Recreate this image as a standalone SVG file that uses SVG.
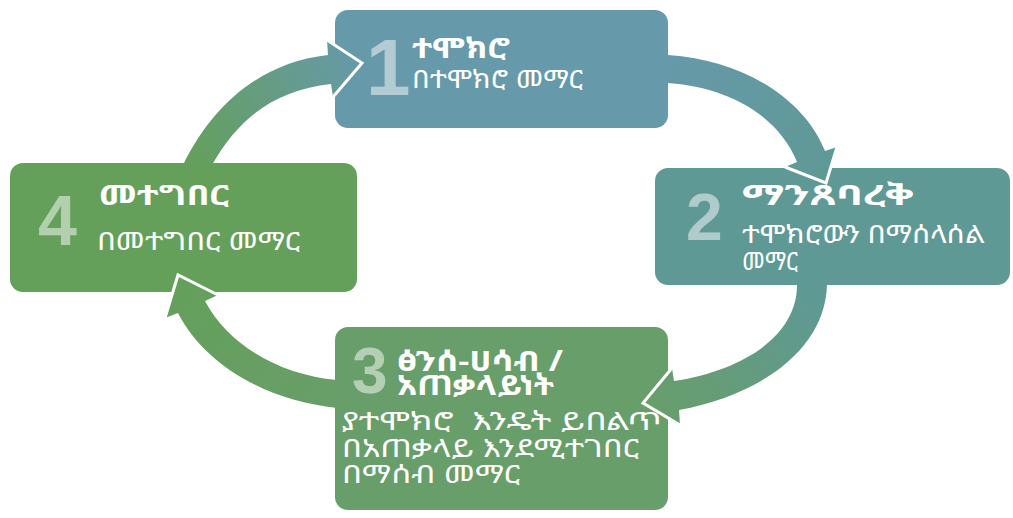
<svg xmlns="http://www.w3.org/2000/svg" width="1013" height="518" viewBox="0 0 1013 518">
<defs>
<style>
.num{font-family:"Liberation Sans",Arial,sans-serif;font-weight:bold;fill:#ffffff;fill-opacity:0.5}
.t,.s{font-family:"Noto Sans Ethiopic","Noto Sans","DejaVu Sans",sans-serif;fill:#ffffff;white-space:pre}
.t{font-weight:bold;font-size:28px}
.s{font-weight:normal;font-size:25px}
.hd{fill:none;stroke:#ffffff;stroke-width:3;stroke-linejoin:miter}
</style>
<linearGradient id="g1" gradientUnits="userSpaceOnUse" x1="190" y1="165" x2="362" y2="63"><stop offset="0" stop-color="#64a05a"/><stop offset="1" stop-color="#6699a9"/></linearGradient>
<linearGradient id="g2" gradientUnits="userSpaceOnUse" x1="668" y1="70" x2="826" y2="183"><stop offset="0" stop-color="#6699a9"/><stop offset="1" stop-color="#5f9995"/></linearGradient>
<linearGradient id="g3" gradientUnits="userSpaceOnUse" x1="812" y1="285" x2="643" y2="403"><stop offset="0" stop-color="#5f9995"/><stop offset="1" stop-color="#689e69"/></linearGradient>
<linearGradient id="g4" gradientUnits="userSpaceOnUse" x1="337" y1="394" x2="178" y2="275"><stop offset="0" stop-color="#689e69"/><stop offset="1" stop-color="#64a05a"/></linearGradient>
</defs>
<rect width="1013" height="518" fill="#ffffff"/>
<g id="node1">
<rect x="335" y="10" width="333" height="118" rx="13" fill="#6699a9"/>
<text class="num" x="366" y="95" font-size="80">1</text>
<text class="t" x="412" y="58" textLength="98" lengthAdjust="spacingAndGlyphs">ተሞክሮ</text>
<text class="s" x="412" y="88" textLength="171" lengthAdjust="spacingAndGlyphs">በተሞክሮ መማር</text>
</g>
<g id="node2">
<rect x="655" y="168" width="355" height="117" rx="13" fill="#5f9995"/>
<text class="num" x="686" y="240" font-size="66">2</text>
<text class="t" x="742" y="205" textLength="172" lengthAdjust="spacingAndGlyphs">ማንጸባረቅ</text>
<text class="s" x="742" y="243" textLength="243" lengthAdjust="spacingAndGlyphs">ተሞክሮውን በማሰላሰል</text>
<text class="s" x="742" y="270" textLength="56" lengthAdjust="spacingAndGlyphs">መማር</text>
</g>
<g id="node3">
<rect x="335" y="327" width="333" height="183" rx="13" fill="#689e69"/>
<text class="num" x="352" y="393" font-size="64">3</text>
<text class="t" x="397" y="371" textLength="166" lengthAdjust="spacingAndGlyphs">ፅንሰ-ሀሳብ /</text>
<text class="t" x="397" y="395" textLength="157" lengthAdjust="spacingAndGlyphs">አጠቃላይነት</text>
<text class="s" x="342" y="430" textLength="320" lengthAdjust="spacingAndGlyphs">ያተሞክሮ  እንዴት ይበልጥ</text>
<text class="s" x="342" y="457" textLength="297" lengthAdjust="spacingAndGlyphs">በአጠቃላይ እንደሚተገበር</text>
<text class="s" x="342" y="483" textLength="178" lengthAdjust="spacingAndGlyphs">በማሰብ መማር</text>
</g>
<g id="node4">
<rect x="10" y="163" width="347" height="129" rx="13" fill="#64a05a"/>
<text class="num" x="38" y="245" font-size="70">4</text>
<text class="t" x="99" y="205" textLength="130" lengthAdjust="spacingAndGlyphs">መተግበር</text>
<text class="s" x="97" y="250" textLength="203" lengthAdjust="spacingAndGlyphs">በመተግበር መማር</text>
</g>
<g id="connectors">
<path d="M183,165 C215,100 265,62 328,55 L327,40 L362,63 L333,97 L331,84 C278,90 240,115 212,165 Z" fill="url(#g1)"/>
<polyline class="hd" points="327,40 362,63 333,97"/>
<path d="M668,55 C745,60 805,100 825,151 L837,147 L826,183 L785,167 L797,162 C780,120 735,88 668,83 Z" fill="url(#g2)"/>
<polyline class="hd" points="837,147 826,183 785,167"/>
<path d="M827,285 C825,350 760,395 679,410 L680,425 L643,403 L672,368 L674,381 C745,370 797,335 797,285 Z" fill="url(#g3)"/>
<polyline class="hd" points="680,425 643,403 672,368"/>
<path d="M337,408 C265,400 205,365 178,313 L165,318 L178,275 L218,295 L205,301 C228,345 280,375 337,380 Z" fill="url(#g4)"/>
<polyline class="hd" points="165,318 178,275 218,295"/>
</g>
</svg>
